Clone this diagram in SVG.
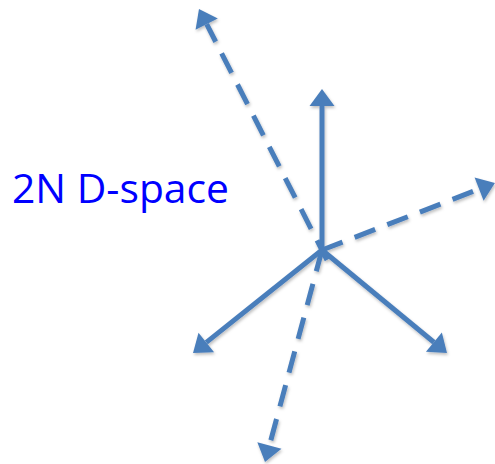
<svg xmlns="http://www.w3.org/2000/svg" width="495" height="464" viewBox="0 0 495 464">
  <style>
    .ln { stroke: #4A7EBB; stroke-width: 5; fill: none; marker-end: url(#ah); }
    .dash { stroke-dasharray: 22 13; }
    .lbl { font-family: "Open Sans", "Liberation Sans", sans-serif; font-size: 40px; fill: #0000FF; }
  </style>
  <defs>
    <marker id="ah" markerUnits="userSpaceOnUse" viewBox="-1 -13 19 26" markerWidth="19" markerHeight="26" refX="0" refY="0" orient="auto">
      <path d="M0,-12.5 L17,0 L0,12.5 Z" fill="#4A7EBB"/>
    </marker>
    <filter id="sh" x="-10%" y="-10%" width="120%" height="120%">
      <feDropShadow dx="1" dy="2" stdDeviation="1.5" flood-color="#000" flood-opacity="0.25"/>
    </filter>
  </defs>
  <g id="label">
    <text class="lbl" x="12" y="203" textLength="217" lengthAdjust="spacingAndGlyphs">2N D-space</text>
  </g>
  <g id="connectors" filter="url(#sh)">
    <line class="ln dash" x1="327" y1="260" x2="206.7" y2="24.1"/>
    <line class="ln dash" x1="322" y1="250" x2="269.4" y2="445.6"/>
    <line class="ln dash" x1="322" y1="250" x2="479.1" y2="189.1"/>
    <line class="ln" x1="322" y1="250" x2="322" y2="106"/>
    <line class="ln" x1="322" y1="250" x2="206.3" y2="342.4"/>
    <line class="ln" x1="322" y1="250" x2="433.9" y2="342.2"/>
  </g>
</svg>
